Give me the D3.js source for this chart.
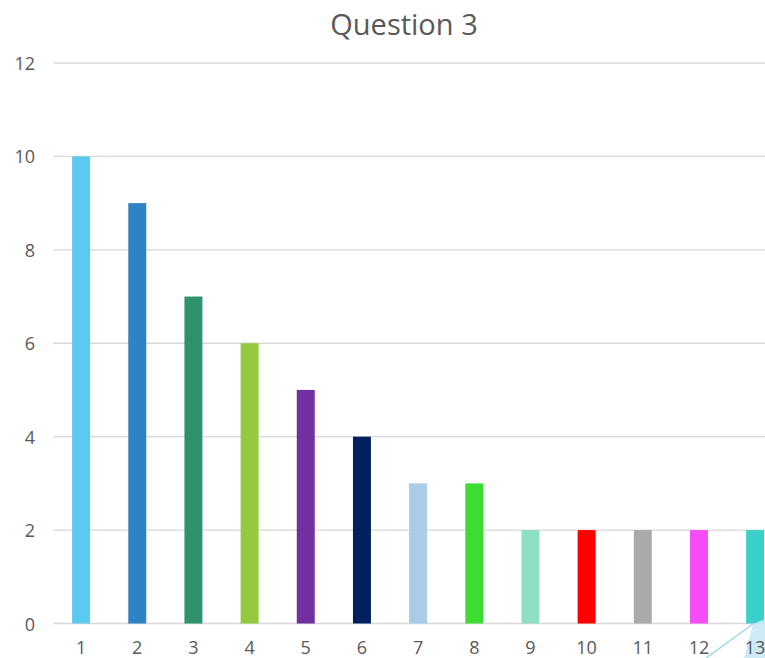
<!DOCTYPE html>
<html>
<head>
<meta charset="utf-8">
<script src="https://cdn.jsdelivr.net/npm/d3@7"></script>
<style>
  body { margin: 0; background: #fff; }
  svg { display: block; font-family: "Open Sans", "DejaVu Sans", sans-serif; }
</style>
</head>
<body>
<svg width="765" height="658"></svg>
<script>
const categories = ["1", "2", "3", "4", "5", "6", "7", "8", "9", "10", "11", "12", "13"];
const values = [10, 9, 7, 6, 5, 4, 3, 3, 2, 2, 2, 2, 2];
const barColors = ["#5bc9f0", "#2e83c4", "#2e936c", "#93c93f", "#7030a0", "#002060",
  "#a9cde9", "#3cdc32", "#8ee0c5", "#ff0000", "#aaaaaa", "#f54cf6", "#39d0cb"];
const yTicks = [0, 2, 4, 6, 8, 10, 12];
const title = "Question 3";

const svg = d3.select("svg");
const plotLeft = 53, plotTop = 63, plotBottom = 623.5;
// the plot runs past the right edge of the picture (chart is cropped)
const plotRight = plotLeft + 13 * 56.17;

const x = d3.scaleBand().domain(categories).range([plotLeft, plotRight]).paddingInner(0.68).paddingOuter(0.34);
const y = d3.scaleLinear().domain([0, 12]).range([plotBottom, plotTop]);

// gridlines
svg.append("g")
  .selectAll("line")
  .data(yTicks)
  .enter().append("line")
  .attr("x1", plotLeft).attr("x2", plotRight)
  .attr("y1", d => y(d)).attr("y2", d => y(d))
  .attr("stroke", "#d9d9d9").attr("stroke-width", 1.3);

// y labels
svg.append("g")
  .selectAll("text")
  .data(yTicks)
  .enter().append("text")
  .attr("x", 35).attr("y", d => y(d) + 7)
  .attr("text-anchor", "end")
  .attr("fill", "#595959").style("font-size", "18px")
  .text(d => d);

// bars
svg.append("g")
  .selectAll("rect")
  .data(values)
  .enter().append("rect")
  .attr("x", (d, i) => x(categories[i]))
  .attr("width", x.bandwidth())
  .attr("y", d => y(d))
  .attr("height", d => y(0) - y(d))
  .attr("fill", (d, i) => barColors[i]);

// stray shape in the bottom right corner of the screenshot
svg.append("polygon")
  .attr("points", "753,624 765,619 765,658 744,658")
  .attr("fill", "#c8e9f6").attr("opacity", 0.9);
svg.append("line")
  .attr("x1", 753).attr("y1", 624).attr("x2", 706).attr("y2", 658)
  .attr("stroke", "#9fd6ee").attr("stroke-width", 1.5);

// x labels
svg.append("g")
  .selectAll("text")
  .data(categories)
  .enter().append("text")
  .attr("x", d => x(d) + x.bandwidth() / 2)
  .attr("y", 654)
  .attr("text-anchor", "middle")
  .attr("fill", "#595959").style("font-size", "18px")
  .text(d => d);

// title
svg.append("text")
  .attr("x", 404).attr("y", 35)
  .attr("text-anchor", "middle")
  .attr("fill", "#595959").style("font-size", "29px")
  .text(title);
</script>
</body>
</html>
